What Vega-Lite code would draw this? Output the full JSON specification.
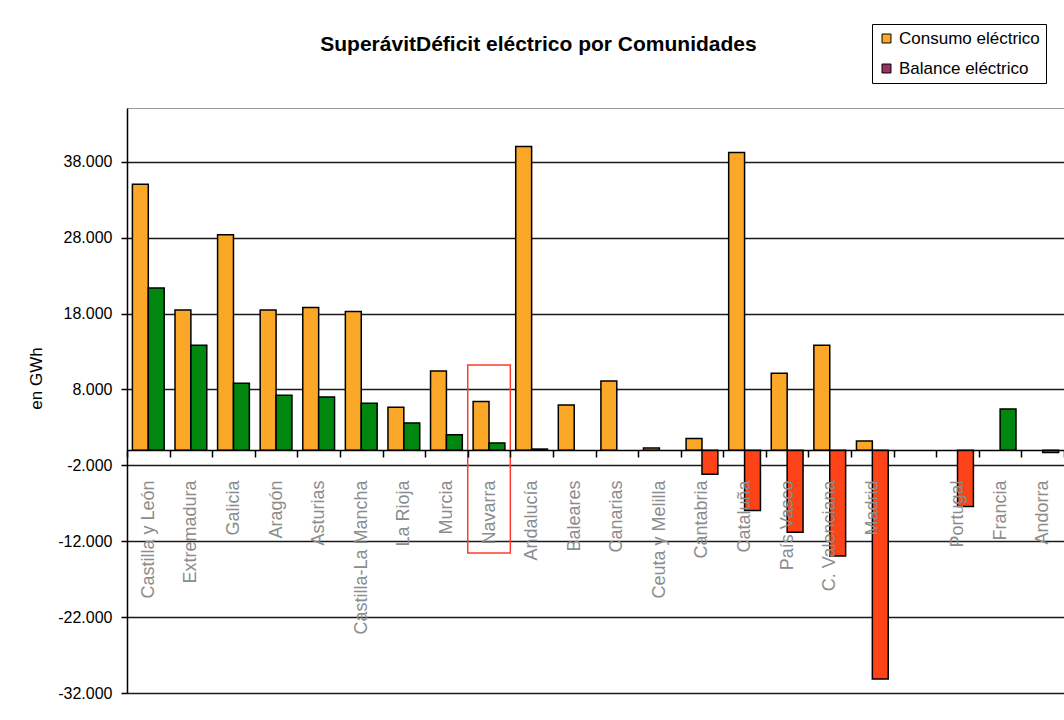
{
  "$schema": "https://vega.github.io/schema/vega-lite/v6.json",
  "width": 937,
  "height": 585,
  "autosize": {"type": "none"},
  "padding": {"left": 127, "top": 108, "right": 0, "bottom": 27},
  "background": "white",
  "config": {"view": {"stroke": "#9a9a9a", "strokeWidth": 1}, "font": "Liberation Sans"},
  "title": {
    "text": "SuperávitDéficit eléctrico por Comunidades",
    "font": "Liberation Sans",
    "fontSize": 21,
    "fontWeight": "bold",
    "color": "black",
    "anchor": "middle",
    "frame": "group",
    "dx": -57,
    "offset": -48,
    "baseline": "alphabetic"
  },
  "layer": [
    {
      "data": {
        "values": [
          {"region": "Castilla y León", "serie": "Consumo eléctrico", "valor": 35060},
          {"region": "Castilla y León", "serie": "Balance eléctrico", "valor": 21390},
          {"region": "Extremadura", "serie": "Consumo eléctrico", "valor": 18490},
          {"region": "Extremadura", "serie": "Balance eléctrico", "valor": 13840},
          {"region": "Galicia", "serie": "Consumo eléctrico", "valor": 28380},
          {"region": "Galicia", "serie": "Balance eléctrico", "valor": 8830},
          {"region": "Aragón", "serie": "Consumo eléctrico", "valor": 18490},
          {"region": "Aragón", "serie": "Balance eléctrico", "valor": 7250},
          {"region": "Asturias", "serie": "Consumo eléctrico", "valor": 18800},
          {"region": "Asturias", "serie": "Balance eléctrico", "valor": 7020},
          {"region": "Castilla-La Mancha", "serie": "Consumo eléctrico", "valor": 18270},
          {"region": "Castilla-La Mancha", "serie": "Balance eléctrico", "valor": 6190},
          {"region": "La Rioja", "serie": "Consumo eléctrico", "valor": 5670},
          {"region": "La Rioja", "serie": "Balance eléctrico", "valor": 3600},
          {"region": "Murcia", "serie": "Consumo eléctrico", "valor": 10450},
          {"region": "Murcia", "serie": "Balance eléctrico", "valor": 2020},
          {"region": "Navarra", "serie": "Consumo eléctrico", "valor": 6410},
          {"region": "Navarra", "serie": "Balance eléctrico", "valor": 960},
          {"region": "Andalucía", "serie": "Consumo eléctrico", "valor": 40020},
          {"region": "Andalucía", "serie": "Balance eléctrico", "valor": 150},
          {"region": "Baleares", "serie": "Consumo eléctrico", "valor": 5970},
          {"region": "Canarias", "serie": "Consumo eléctrico", "valor": 9130},
          {"region": "Ceuta y Melilla", "serie": "Consumo eléctrico", "valor": 300},
          {"region": "Cantabria", "serie": "Consumo eléctrico", "valor": 1530},
          {"region": "Cantabria", "serie": "Balance eléctrico", "valor": -3160},
          {"region": "Cataluña", "serie": "Consumo eléctrico", "valor": 39220},
          {"region": "Cataluña", "serie": "Balance eléctrico", "valor": -7960},
          {"region": "País Vasco", "serie": "Consumo eléctrico", "valor": 10150},
          {"region": "País Vasco", "serie": "Balance eléctrico", "valor": -10810},
          {"region": "C. Valenciana", "serie": "Consumo eléctrico", "valor": 13840},
          {"region": "C. Valenciana", "serie": "Balance eléctrico", "valor": -13930},
          {"region": "Madrid", "serie": "Consumo eléctrico", "valor": 1200},
          {"region": "Madrid", "serie": "Balance eléctrico", "valor": -30160},
          {"region": "Portugal", "serie": "Balance eléctrico", "valor": -7430},
          {"region": "Francia", "serie": "Balance eléctrico", "valor": 5440},
          {"region": "Andorra", "serie": "Balance eléctrico", "valor": -300}
        ]
      },
      "transform": [
        {"calculate": "datum.serie === 'Consumo eléctrico' ? 'Consumo eléctrico' : (datum.valor >= 0 ? 'Superávit' : 'Déficit')", "as": "tono"}
      ],
      "mark": {"type": "bar", "stroke": "black", "strokeWidth": 1.5},
      "encoding": {
        "x": {
          "field": "region",
          "type": "nominal",
          "title": null,
          "scale": {
            "domain": ["Castilla y León", "Extremadura", "Galicia", "Aragón", "Asturias", "Castilla-La Mancha", "La Rioja", "Murcia", "Navarra", "Andalucía", "Baleares", "Canarias", "Ceuta y Melilla", "Cantabria", "Cataluña", "País Vasco", "C. Valenciana", "Madrid", " ", "Portugal", "Francia", "Andorra"],
            "paddingInner": 0,
            "paddingOuter": 0
          },
          "axis": {
            "orient": "bottom",
            "offset": -243,
            "tickBand": "extent",
            "tickSize": 7,
            "tickColor": "black",
            "tickWidth": 1.5,
            "domainColor": "black",
            "domainWidth": 1.5,
            "labelAngle": -90,
            "labelPadding": 23,
            "labelFont": "Liberation Sans",
            "labelFontSize": 18,
            "labelColor": "#8c8c8c",
            "labelOverlap": false,
            "labelLimit": 300,
            "grid": false,
            "zindex": 1
          }
        },
        "xOffset": {
          "field": "serie",
          "type": "nominal",
          "scale": {"domain": ["Consumo eléctrico", "Balance eléctrico"], "paddingInner": 0, "paddingOuter": 0.34}
        },
        "y": {
          "field": "valor",
          "type": "quantitative",
          "stack": null,
          "title": "en GWh",
          "scale": {"domain": [-32000, 45100], "nice": false, "zero": false},
          "axis": {
            "values": [-32000, -22000, -12000, -2000, 8000, 18000, 28000, 38000],
            "labelExpr": "(datum.value < 0 ? '-' : '') + replace(format(abs(datum.value), ','), ',', '.')",
            "labelFont": "Liberation Sans",
            "labelFontSize": 16,
            "labelColor": "black",
            "labelPadding": 9,
            "tickSize": 6,
            "tickColor": "black",
            "tickWidth": 1.5,
            "domainColor": "black",
            "domainWidth": 1.5,
            "grid": true,
            "gridColor": "#1a1a1a",
            "gridWidth": 1.5,
            "titleFont": "Liberation Sans",
            "titleFontSize": 17,
            "titleFontWeight": "normal",
            "titleColor": "black",
            "titleAngle": -90,
            "titleAlign": "center",
            "titleBaseline": "middle",
            "titleX": -91,
            "titleY": 270
          }
        },
        "color": {
          "field": "tono",
          "type": "nominal",
          "scale": {
            "domain": ["Consumo eléctrico", "Balance eléctrico", "Superávit", "Déficit"],
            "range": ["#FBA829", "#993366", "#00870F", "#FF4318"]
          },
          "legend": {
            "orient": "none",
            "legendX": 745,
            "legendY": -84,
            "title": null,
            "values": ["Consumo eléctrico", "Balance eléctrico"],
            "symbolType": "square",
            "symbolSize": 80,
            "symbolStrokeColor": "black",
            "symbolStrokeWidth": 1,
            "labelFont": "Liberation Sans",
            "labelFontSize": 17,
            "labelColor": "black",
            "labelOffset": 4,
            "strokeColor": "black",
            "fillColor": "white",
            "padding": 6,
            "rowPadding": 12
          }
        }
      }
    },
    {
      "data": {"values": [{"region": "Navarra", "valor": 11240, "valor2": -13540}]},
      "mark": {"type": "rect", "fill": "transparent", "stroke": "#FF3B2B", "strokeWidth": 1.5},
      "encoding": {
        "x": {"field": "region", "type": "nominal", "title": null},
        "y": {"field": "valor", "type": "quantitative", "title": "en GWh"},
        "y2": {"field": "valor2"}
      }
    }
  ]
}
